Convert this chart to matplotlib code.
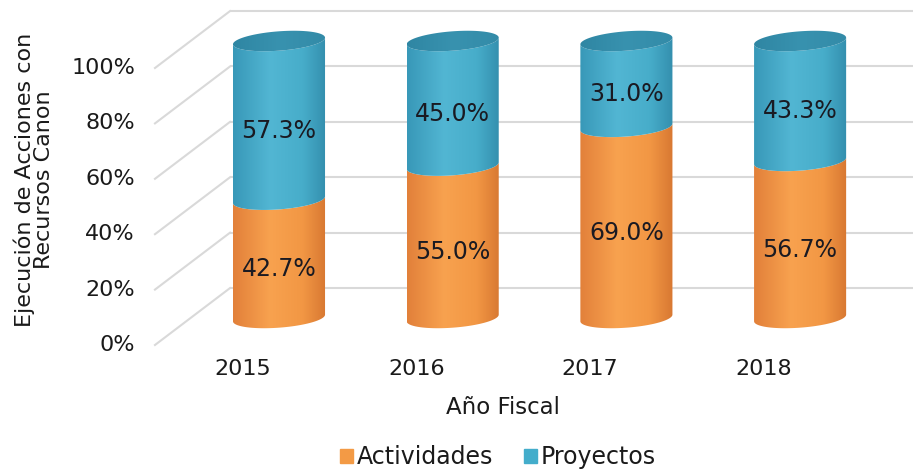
import numpy as np
import matplotlib
matplotlib.use('Agg')
import matplotlib.pyplot as plt
from matplotlib.path import Path
from matplotlib.patches import PathPatch, Patch
from matplotlib.colors import LinearSegmentedColormap

plt.rcParams['font.family'] = ['DejaVu Sans']

years = ['2015', '2016', '2017', '2018']
actividades = [42.7, 55.0, 69.0, 56.7]
proyectos = [57.3, 45.0, 31.0, 43.3]
ticks = [0, 20, 40, 60, 80, 100]

c_orange = '#F39A45'
c_blue = '#43ADCB'
cm_orange = LinearSegmentedColormap.from_list(
    'o', [(0, '#E2803A'), (0.4, '#F8A24F'), (0.75, '#F29744'), (1, '#D87832')])
cm_blue = LinearSegmentedColormap.from_list(
    'b', [(0, '#3898B8'), (0.4, '#52B6D3'), (0.75, '#47ADCA'), (1, '#348FAE')])
cm_top = LinearSegmentedColormap.from_list(
    't', [(0, '#2F86A3'), (0.5, '#3892AF'), (1, '#338BA8')])

W = 0.53      # cylinder width (x units)
EH = 7.0      # ellipse height (y units)
TILT = 2.4    # right side of each ellipse sits a bit higher


def arc(cx, y, t0, t1, n=60):
    t = np.linspace(t0, t1, n)
    x = cx + W / 2 * np.cos(t)
    yy = y + EH / 2 * np.sin(t) + TILT * (x - cx) / W
    return x, yy


def segment(ax, cx, b, t, cmap, z):
    xb, yb = arc(cx, b, np.pi, 2 * np.pi)
    xt, yt = arc(cx, t, 2 * np.pi, np.pi)
    verts = np.column_stack([np.r_[xb, xt, xb[0]], np.r_[yb, yt, yb[0]]])
    codes = [Path.MOVETO] + [Path.LINETO] * (len(verts) - 2) + [Path.CLOSEPOLY]
    patch = PathPatch(Path(verts, codes), fc='none', ec='none', transform=ax.transData)
    ax.add_patch(patch)
    grad = np.linspace(0, 1, 256).reshape(1, -1)
    im = ax.imshow(grad, cmap=cmap, aspect='auto', interpolation='bilinear',
                   extent=[cx - W / 2, cx + W / 2, b - 8, t + 8], zorder=z)
    im.set_clip_path(patch)


def top_face(ax, cx, t, z):
    x, y = arc(cx, t, 0, 2 * np.pi, 120)
    verts = np.column_stack([x, y])
    patch = PathPatch(Path(verts, closed=True), fc='none', ec='none', transform=ax.transData)
    ax.add_patch(patch)
    grad = np.linspace(0, 1, 256).reshape(1, -1)
    im = ax.imshow(grad, cmap=cm_top, aspect='auto', interpolation='bilinear',
                   extent=[cx - W / 2, cx + W / 2, t - 8, t + 8], zorder=z)
    im.set_clip_path(patch)


fig = plt.figure(figsize=(9.13, 4.70), dpi=100)
ax = fig.add_axes([150 / 913, 1 - 390 / 470, 763 / 913, 390 / 470])
ax.axis('off')

# perspective grid: back wall lines plus slanted side wall lines
off_back, off_front = 10.8, -9.75
x_front, x_back = -0.714, -0.282
for v in ticks:
    ax.plot([x_back, 3.7], [v + off_back] * 2, color='#D9D9D9', lw=1.5, zorder=1,
            solid_capstyle='butt')
    ax.plot([x_front, x_back], [v + off_front, v + off_back], color='#D9D9D9',
            lw=1.5, zorder=1)
    ax.text(-0.829, v + off_front, f'{v}%', ha='right', va='center',
            fontsize=16, color='#1a1a1a', clip_on=False)

for i, (a, p) in enumerate(zip(actividades, proyectos)):
    segment(ax, i, 0, a, cm_orange, 3)
    segment(ax, i, a, a + p, cm_blue, 4)
    top_face(ax, i, a + p, 5)
    ax.text(i, a / 2 - 3.7, f'{a:.1f}%', ha='center', va='center',
            fontsize=17, color='#1a1a22', zorder=6)
    ax.text(i, a + p / 2 - 3.7, f'{p:.1f}%', ha='center', va='center',
            fontsize=17, color='#1a1a22', zorder=6)
    ax.text(i - 0.21, -18.4, years[i], ha='center', va='center',
            fontsize=16, color='#1a1a1a')

ax.set_xlim((150 - 279) / 173.7, (913 - 279) / 173.7)
ax.set_ylim(-26.0, 114.8)

fig.text(34 / 913, 1 - 180 / 470, 'Ejecución de Acciones con\nRecursos Canon',
         rotation=90, ha='center', va='center', fontsize=16, color='#1a1a1a',
         linespacing=0.95)
fig.text(503 / 913, 1 - 407 / 470, 'Año Fiscal', ha='center', va='center',
         fontsize=16.5, color='#1a1a1a')

handles = [Patch(color=c_orange), Patch(color=c_blue)]
fig.legend(handles, ['Actividades', 'Proyectos'], loc='center',
           bbox_to_anchor=(498 / 913, 1 - 457 / 470), ncol=2, frameon=False,
           fontsize=17, handlelength=0.55, handleheight=0.55, handletextpad=0.15,
           columnspacing=1.3, labelcolor='#1a1a1a')

fig.savefig('out.png', dpi=100, facecolor='white')
